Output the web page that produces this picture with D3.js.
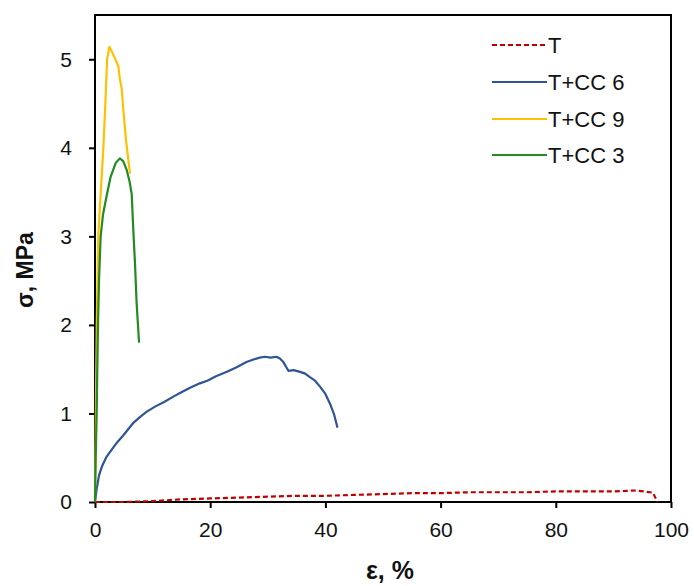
<!DOCTYPE html>
<html><head><meta charset="utf-8">
<script src="https://cdn.jsdelivr.net/npm/d3@7"></script>
<style>body{margin:0;background:#fff}text{font-family:"Liberation Sans",Arial,sans-serif}</style>
</head><body><svg id="c" width="694" height="586"></svg>
<script>
const xTicks = [0, 20, 40, 60, 80, 100];
const yTicks = [0, 1, 2, 3, 4, 5];
const seriesNames = ["T", "T+CC 6", "T+CC 9", "T+CC 3"];
const seriesColors = ["#C00000", "#2F5597", "#FFC000", "#228B22"];

const xT = [0,5,10,15,20,25,30,35,40,45,50,55,60,65,70,75,80,85,90,94,96.9,97.6];
const yT = [0,0,0.01,0.03,0.04,0.05,0.06,0.07,0.07,0.08,0.09,0.1,0.1,0.11,0.11,0.11,0.12,0.12,0.12,0.13,0.105,0];

const xCC6 = [0,0.3,0.7,1.2,2,3,3.8,5,6.6,8,9,10.5,12,13.6,15,16.5,18.2,19.5,21,22.9,24.5,26.3,27.5,28.6,29.5,30.5,31.5,32.1,32.7,33.6,34.5,35.6,36.5,37.3,38.2,39.1,40,40.8,41.5,42.1];
const yCC6 = [0,0.15,0.3,0.4,0.51,0.6,0.67,0.76,0.89,0.97,1.02,1.08,1.13,1.19,1.24,1.29,1.34,1.37,1.42,1.47,1.52,1.58,1.61,1.63,1.64,1.63,1.64,1.62,1.58,1.48,1.49,1.47,1.45,1.41,1.37,1.30,1.22,1.11,0.99,0.84];

const xCC9 = [0,0.15,0.3,0.57,1.0,1.45,1.8,2.1,2.5,2.9,3.47,4.05,4.34,4.63,4.92,5.38,5.79,6.08];
const yCC9 = [0,1,2,3,3.5,4,4.5,5,5.14,5.09,5.01,4.92,4.77,4.67,4.43,4.09,3.86,3.71];

const xCC3 = [0,0.12,0.29,0.4,0.52,0.7,0.98,1.4,2.0,2.7,3.6,4.3,4.9,5.5,6.0,6.37,6.65,6.94,7.23,7.65];
const yCC3 = [0,0.5,1,1.5,2,2.5,3,3.25,3.45,3.67,3.83,3.88,3.85,3.75,3.62,3.48,3.07,2.7,2.24,1.8];

const svg = d3.select("#c");
const L = 95, R = 671, T = 15, B = 502;
const x = d3.scaleLinear().domain([0, 100]).range([L, R]);
const y = d3.scaleLinear().domain([0, 5.5]).range([B, T]);
const font = '"Liberation Sans",Arial,sans-serif';

const xa = svg.append("g").attr("transform", `translate(0,${B})`)
  .call(d3.axisBottom(x).tickValues(xTicks).tickFormat(d3.format("d")).tickSize(6).tickSizeOuter(0).tickPadding(14));
const ya = svg.append("g").attr("transform", `translate(${L},0)`)
  .call(d3.axisLeft(y).tickValues(yTicks).tickFormat(d3.format("d")).tickSize(6).tickSizeOuter(0).tickPadding(17));
[xa, ya].forEach(g => {
  g.select(".domain").remove();
  g.selectAll("line").attr("stroke", "#000").attr("stroke-width", 2);
  g.selectAll("text").attr("font-size", 21).attr("fill", "#111").style("font-family", font);
});

svg.append("rect").attr("x", L).attr("y", T).attr("width", R - L).attr("height", B - T)
  .attr("fill", "none").attr("stroke", "#000").attr("stroke-width", 2);

const data = [[xT, yT], [xCC6, yCC6], [xCC9, yCC9], [xCC3, yCC3]];
const line = d3.line().x(d => x(d[0])).y(d => y(d[1]));
data.forEach((s, i) => {
  const pts = s[0].map((v, j) => [v, s[1][j]]);
  svg.append("path").datum(pts).attr("d", line).attr("fill", "none")
    .attr("stroke", seriesColors[i]).attr("stroke-width", 2.2)
    .attr("stroke-linejoin", "round")
    .attr("stroke-dasharray", i === 0 ? "5,3" : null);
});

const legY = [45, 82, 119, 155];
seriesNames.forEach((n, i) => {
  svg.append("line").attr("x1", 492).attr("x2", 547).attr("y1", legY[i]).attr("y2", legY[i])
    .attr("stroke", seriesColors[i]).attr("stroke-width", 2.2)
    .attr("stroke-dasharray", i === 0 ? "5,3" : null);
  svg.append("text").attr("x", 548).attr("y", legY[i]).attr("dy", "0.35em")
    .attr("font-size", 22).attr("fill", "#111").text(n);
});

svg.append("text").attr("transform", "translate(33,270) rotate(-90)")
  .attr("text-anchor", "middle").attr("font-size", 23).attr("font-weight", "bold").attr("fill", "#111")
  .text("σ, MPa");
svg.append("text").attr("x", 390).attr("y", 579).attr("text-anchor", "middle")
  .attr("font-size", 25).attr("font-weight", "bold").attr("fill", "#111").text("ε, %");
</script></body></html>
